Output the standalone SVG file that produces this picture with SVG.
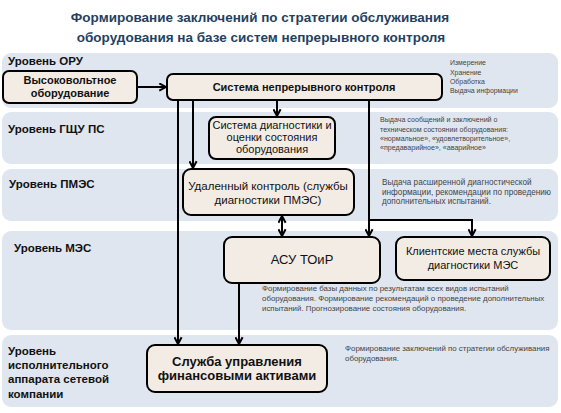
<svg xmlns="http://www.w3.org/2000/svg" width="561" height="413" viewBox="0 0 561 413">
<defs>
<marker id="ah" viewBox="0 0 10 10" refX="8.5" refY="5" markerWidth="9" markerHeight="9" orient="auto-start-reverse" markerUnits="userSpaceOnUse">
<path d="M1,1 L8.5,5 L1,9" fill="none" stroke="#000" stroke-width="2.2" stroke-linejoin="miter"/>
</marker>
<style>
.band{fill:#dfe6f0}
.lvl{font-family:"Liberation Sans",Arial,sans-serif;font-weight:bold;font-size:11.5px;fill:#111}
.box{fill:#f3ece4;stroke:#000;stroke-width:2}
.bt{font-family:"Liberation Sans",Arial,sans-serif;font-size:11px;fill:#111;text-anchor:middle}
.bb{font-weight:bold}
.note{font-family:"Liberation Sans",Arial,sans-serif;font-size:7.6px;fill:#444}
.ns{font-size:6.9px}
.ng{font-size:7.1px}
.nl{font-size:8.2px}
.nm{font-size:7.9px}
.con{fill:none;stroke:#000;stroke-width:2;marker-end:url(#ah)}
.title{font-family:"Liberation Sans",Arial,sans-serif;font-weight:bold;font-size:13.5px;fill:#243f60;text-anchor:middle}
</style>
</defs>
<rect width="561" height="413" fill="#fff"/>
<text class="title" x="260" y="22">Формирование заключений по стратегии обслуживания</text>
<text class="title" x="261" y="42">оборудования на базе систем непрерывного контроля</text>

<g id="bands">
<rect class="band" x="2" y="53" width="556" height="55" rx="9"/>
<rect class="band" x="2" y="112" width="556" height="52" rx="9"/>
<rect class="band" x="2" y="169" width="556" height="52" rx="9"/>
<rect class="band" x="2" y="231" width="556" height="99" rx="9"/>
<rect class="band" x="2" y="335" width="556" height="72" rx="9"/>
</g>

<g id="levels">
<text class="lvl" x="8" y="65">Уровень ОРУ</text>
<text class="lvl" x="8" y="133">Уровень ГЩУ ПС</text>
<text class="lvl" x="9" y="188">Уровень ПМЭС</text>
<text class="lvl" x="14" y="252">Уровень МЭС</text>
<text class="lvl" x="8" y="355">Уровень</text>
<text class="lvl" x="8" y="369">исполнительного</text>
<text class="lvl" x="8" y="383">аппарата сетевой</text>
<text class="lvl" x="8" y="398">компании</text>
</g>

<g id="notes">
<text class="note ns" x="450" y="65">Измерение</text>
<text class="note ns" x="450" y="75">Хранение</text>
<text class="note ns" x="450" y="84">Обработка</text>
<text class="note ns" x="450" y="93">Выдача информации</text>
<text class="note ng" x="380" y="122">Выдача сообщений и заключений о</text>
<text class="note ng" x="380" y="132">техническом состоянии оборудования:</text>
<text class="note ng" x="380" y="141">«нормальное», «удовлетворительное»,</text>
<text class="note ng" x="380" y="150">«предаварийное», «аварийное»</text>
<text class="note nl" x="382" y="185">Выдача расширенной диагностической</text>
<text class="note nl" x="382" y="195">информации, рекомендации по проведению</text>
<text class="note nl" x="382" y="204">дополнительных испытаний.</text>
<text class="note nm" x="262" y="291">Формирование базы данных по результатам всех видов испытаний</text>
<text class="note nm" x="262" y="301">оборудования. Формирование рекомендаций о проведение дополнительных</text>
<text class="note nm" x="262" y="311">испытаний. Прогнозирование состояния оборудования.</text>
<text class="note nm" x="345" y="351">Формирование заключений по стратегии обслуживания</text>
<text class="note nm" x="345" y="361">оборудования.</text>
</g>

<g id="connectors">
<path class="con" d="M137,87 H166"/>
<path class="con" d="M277,100 V116"/>
<path class="con" d="M178,100 V344"/>
<path class="con" d="M193,100 V168"/>
<path class="con" d="M369,100 V236"/>
<path class="con" d="M369,220 H472 V236"/>
<path class="con" d="M282,216 V236" marker-start="url(#ah)"/>
<path class="con" d="M239,283 V344"/>
</g>

<g id="n-hv">
<rect class="box" x="3" y="71" width="134" height="32" rx="6"/>
<text class="bt bb" x="70" y="84">Высоковольтное</text>
<text class="bt bb" x="70" y="97">оборудование</text>
</g>
<g id="n-snk">
<rect class="box" x="167" y="74" width="275" height="26" rx="6"/>
<text class="bt bb" x="304" y="91">Система непрерывного контроля</text>
</g>
<g id="n-diag">
<rect class="box" x="209" y="117" width="126" height="42" rx="7"/>
<text class="bt" x="272" y="129">Система диагностики и</text>
<text class="bt" x="272" y="141">оценки состояния</text>
<text class="bt" x="272" y="153">оборудования</text>
</g>
<g id="n-remote">
<rect class="box" x="183" y="169" width="171" height="46" rx="8"/>
<text class="bt" x="268" y="190" style="font-size:11.5px">Удаленный контроль (службы</text>
<text class="bt" x="268" y="204" style="font-size:11.5px">диагностики ПМЭС)</text>
</g>
<g id="n-asu">
<rect class="box" x="224" y="237" width="156" height="46" rx="8"/>
<text class="bt" x="302" y="264" style="font-size:13px">АСУ ТОиР</text>
</g>
<g id="n-client">
<rect class="box" x="396" y="237" width="154" height="43" rx="8"/>
<text class="bt" x="473" y="255">Клиентские места службы</text>
<text class="bt" x="473" y="269">диагностики МЭС</text>
</g>
<g id="n-fin">
<rect class="box" x="147" y="345" width="180" height="47" rx="8"/>
<text class="bt bb" x="237" y="366" style="font-size:13px">Служба управления</text>
<text class="bt bb" x="237" y="380" style="font-size:13px">финансовыми активами</text>
</g>
</svg>
